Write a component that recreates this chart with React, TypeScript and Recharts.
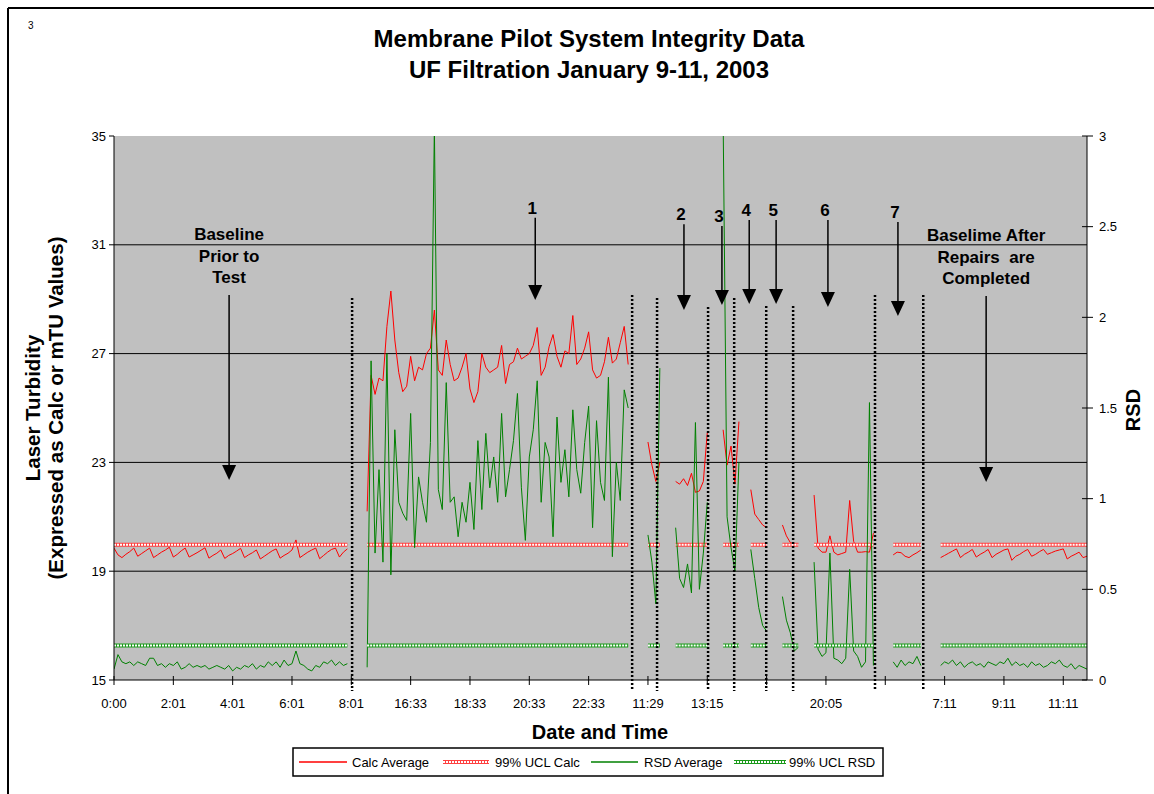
import React from 'react';
import { ComposedChart, Line, XAxis, YAxis, CartesianGrid, ReferenceLine } from 'recharts';

const FONT = "'Liberation Sans', Arial, Helvetica, sans-serif";
const RED = '#FF0000';
const GREEN = '#008000';
const UCL_RED = '#FF4040';
const UCL_GREEN = '#1A9A1A';

// ---- x axis (category index) ----
const pointCount = 247;
const xTickLabels = ['0:00', '2:01', '4:01', '6:01', '8:01', '16:33', '18:33', '20:33', '22:33', '11:29', '13:15', '', '20:05', '', '7:11', '9:11', '11:11'];
const xTickValues = xTickLabels.map((_, k) => k * 15);
const leftTicks = [15, 19, 23, 27, 31, 35];
const rightTicks = [0, 0.5, 1, 1.5, 2, 2.5, 3];
const gridValues = [19, 23, 27, 31];

// ---- UCL levels ----
const uclCalcLevel = 19.97;
const uclRsdLevel = 0.19;

// ---- segment start indices ----
const segmentStart = [0, 64, 135, 142, 154, 161, 169, 177, 197, 209];

// ---- Calc Average (left axis) ----
const calcBaselineBefore = [19.85, 19.6, 19.5, 19.62, 19.72, 19.85, 19.55, 19.65, 19.75, 19.85, 19.5, 19.6, 19.7, 19.78, 19.88, 19.52, 19.62, 19.75, 19.85, 19.52, 19.6, 19.68, 19.77, 19.86, 19.48, 19.58, 19.66, 19.78, 19.47, 19.58, 19.65, 19.74, 19.84, 19.5, 19.6, 19.68, 19.78, 19.45, 19.55, 19.65, 19.75, 19.82, 19.48, 19.58, 19.66, 19.78, 20.15, 19.5, 19.6, 19.7, 19.78, 19.85, 19.46, 19.58, 19.7, 19.8, 19.85, 19.52, 19.7, 19.82];
const calcTest1 = [21.2, 26.2, 25.5, 26.1, 26.0, 28.0, 29.3, 27.5, 26.3, 25.6, 25.8, 26.9, 26.0, 26.5, 26.4, 27.0, 27.2, 28.6, 26.4, 26.2, 27.5, 26.6, 26.0, 26.1, 26.5, 27.0, 25.7, 25.2, 25.6, 27.0, 26.5, 26.3, 26.4, 26.5, 27.3, 25.9, 26.6, 26.7, 27.2, 26.8, 26.9, 27.0, 27.3, 27.96, 26.2, 26.5, 27.25, 27.7, 26.9, 26.5, 27.1, 27.0, 28.4, 26.6, 26.8, 27.2, 27.8, 26.4, 26.1, 26.2, 26.7, 27.6, 26.65, 26.8, 27.4, 28.0, 26.6];
const calcTest1b = [23.75, 22.9, 22.3, 23.0];
const calcTest2 = [22.3, 22.2, 22.4, 22.15, 22.6, 21.9, 21.95, 22.3, 24.1];
const calcTest3 = [24.2, 22.9, 23.6, 22.2, 24.5];
const calcTest4 = [22.0, 21.1, 20.9, 20.7, 20.6];
const calcTest5 = [20.7, 20.3, 20.05, 20.0, 20.02];
const calcTest6 = [21.8, 19.85, 19.7, 19.7, 20.3, 19.7, 19.6, 19.65, 19.7, 21.6, 20.1, 19.7, 19.7, 19.72, 19.7, 20.4];
const calcTest7 = [19.6, 19.7, 19.68, 19.55, 19.5, 19.6, 19.68, 19.78];
const calcBaselineAfter = [19.5, 19.58, 19.66, 19.74, 19.82, 19.5, 19.62, 19.7, 19.8, 19.52, 19.62, 19.7, 19.8, 19.5, 19.62, 19.7, 19.78, 19.82, 19.4, 19.55, 19.62, 19.72, 19.8, 19.55, 19.62, 19.72, 19.8, 19.62, 19.68, 19.74, 19.78, 19.82, 19.45, 19.55, 19.62, 19.7, 19.5, 19.55];

// ---- RSD Average (right axis) ----
const rsdBaselineBefore = [0.06, 0.14, 0.1, 0.09, 0.1, 0.08, 0.1, 0.09, 0.08, 0.12, 0.12, 0.08, 0.09, 0.07, 0.09, 0.08, 0.1, 0.06, 0.07, 0.09, 0.07, 0.08, 0.07, 0.08, 0.06, 0.07, 0.08, 0.07, 0.06, 0.08, 0.05, 0.07, 0.06, 0.08, 0.07, 0.09, 0.06, 0.08, 0.07, 0.1, 0.08, 0.1, 0.07, 0.11, 0.08, 0.09, 0.16, 0.09, 0.08, 0.06, 0.05, 0.08, 0.07, 0.1, 0.09, 0.11, 0.08, 0.1, 0.08, 0.09];
const rsdTest1 = [0.07, 1.76, 0.70, 1.16, 0.65, 1.80, 0.58, 1.38, 0.98, 0.92, 0.88, 1.47, 0.73, 1.12, 0.98, 0.87, 1.31, 3.05, 1.05, 0.94, 1.64, 0.98, 1.01, 0.79, 0.98, 0.87, 1.09, 0.83, 1.32, 0.94, 1.36, 1.06, 1.23, 0.98, 1.47, 1.01, 1.16, 1.32, 1.58, 1.06, 0.77, 1.23, 1.38, 1.65, 0.98, 1.31, 1.23, 0.79, 1.45, 1.09, 1.27, 1.01, 1.49, 1.16, 1.03, 1.31, 1.51, 0.84, 1.43, 1.09, 0.99, 1.67, 0.68, 1.20, 0.99, 1.60, 1.50];
const rsdTest1b = [0.80, 0.65, 0.42, 1.72];
const rsdTest2 = [0.84, 0.56, 0.51, 0.64, 0.48, 1.42, 0.50, 0.70, 0.98];
const rsdTest3 = [3.1, 0.9, 0.73, 0.6, 1.2];
const rsdTest4 = [0.72, 0.56, 0.40, 0.30, 0.27];
const rsdTest5 = [0.46, 0.33, 0.26, 0.16, 0.18];
const rsdTest6 = [0.65, 0.17, 0.13, 0.15, 0.70, 0.12, 0.11, 0.09, 0.12, 0.61, 0.16, 0.13, 0.07, 0.10, 1.53, 0.08];
const rsdTest7 = [0.1, 0.07, 0.11, 0.08, 0.1, 0.09, 0.13, 0.08];
const rsdBaselineAfter = [0.08, 0.1, 0.09, 0.11, 0.08, 0.1, 0.07, 0.09, 0.1, 0.08, 0.09, 0.07, 0.1, 0.09, 0.08, 0.1, 0.09, 0.12, 0.08, 0.1, 0.08, 0.09, 0.07, 0.1, 0.08, 0.09, 0.07, 0.08, 0.1, 0.09, 0.11, 0.08, 0.07, 0.09, 0.06, 0.08, 0.07, 0.06];

const calcSegments = [calcBaselineBefore, calcTest1, calcTest1b, calcTest2, calcTest3, calcTest4, calcTest5, calcTest6, calcTest7, calcBaselineAfter];
const rsdSegments = [rsdBaselineBefore, rsdTest1, rsdTest1b, rsdTest2, rsdTest3, rsdTest4, rsdTest5, rsdTest6, rsdTest7, rsdBaselineAfter];

// ---- annotations (x = category index, y = left-axis value) ----
const separatorX = [60.2, 131.0, 137.3, 150.2, 156.8, 164.9, 171.7, 192.4, 204.6];
const separatorTop = [29.04, 29.15, 29.04, 28.71, 29.04, 28.75, 28.75, 29.15, 29.15];
const separatorBottom = 14.6;

const arrowX = [29.1, 106.5, 144.1, 153.7, 160.6, 167.4, 180.5, 198.2, 220.5];
const arrowTop = [29.15, 31.99, 31.76, 31.69, 31.91, 31.91, 31.91, 31.84, 29.12];
const arrowTip = [22.35, 28.97, 28.6, 28.79, 28.82, 28.82, 28.71, 28.38, 22.28];
const arrowText = [
  ['Baseline', 'Prior to', 'Test'],
  ['1'], ['2'], ['3'], ['4'], ['5'], ['6'], ['7'],
  ['Baselime After', 'Repairs  are', 'Completed'],
];

type Row = { idx: number; calc: number | null; rsd: number | null; uclCalc: number | null; uclRsd: number | null };
const data: Row[] = Array.from({ length: pointCount }, (_, i) => ({ idx: i, calc: null, rsd: null, uclCalc: null, uclRsd: null }));
segmentStart.forEach((s, k) => {
  calcSegments[k].forEach((v, j) => {
    data[s + j].calc = v;
    data[s + j].uclCalc = uclCalcLevel;
  });
  rsdSegments[k].forEach((v, j) => {
    data[s + j].rsd = v;
    data[s + j].uclRsd = uclRsdLevel;
  });
});

function XTick(props: any) {
  const { x, y, payload } = props;
  const k = xTickValues.indexOf(payload.value);
  const label = k >= 0 ? xTickLabels[k] : '';
  const axisY = y - 10;
  return (
    <g>
      <line x1={x} x2={x} y1={axisY - 4} y2={axisY} stroke="#000" strokeWidth={1} />
      <text x={x} y={axisY + 28} textAnchor="middle" fontSize={13} fontFamily={FONT} fill="#000">{label}</text>
    </g>
  );
}

function LeftTick(props: any) {
  const { x, y, payload } = props;
  return (
    <text x={x} y={y + 4.5} textAnchor="end" fontSize={13} fontFamily={FONT} fill="#000">{payload.value}</text>
  );
}

function RightTick(props: any) {
  const { x, y, payload } = props;
  const axisX = x - 12;
  return (
    <g>
      <line x1={axisX - 5} x2={axisX} y1={y} y2={y} stroke="#000" strokeWidth={1} />
      <text x={x} y={y + 4.5} textAnchor="start" fontSize={13} fontFamily={FONT} fill="#000">{payload.value}</text>
    </g>
  );
}

function arrowShape(lines: string[]) {
  return (p: any) => {
    const x = p.x1;
    const top = Math.min(p.y1, p.y2);
    const tip = Math.max(p.y1, p.y2);
    const big = lines.length > 1;
    const offsets = big ? [-55, -33, -12] : [-4];
    return (
      <g>
        <line x1={x} x2={x} y1={top} y2={tip - 12} stroke="#000" strokeWidth={1.5} />
        <polygon points={`${x - 7},${tip - 15} ${x + 7},${tip - 15} ${x},${tip}`} fill="#000" />
        {lines.map((t, k) => (
          <text
            key={k}
            x={big ? x : x - 3}
            y={top + offsets[k]}
            textAnchor="middle"
            fontFamily={FONT}
            fontWeight="bold"
            fontSize={17}
            fill="#000"
            style={{ whiteSpace: 'pre' }}
          >
            {t}
          </text>
        ))}
      </g>
    );
  };
}

function UclSample({ x1, x2, y, color }: { x1: number; x2: number; y: number; color: string }) {
  return (
    <g>
      <line x1={x1} x2={x2} y1={y} y2={y} stroke={color} strokeWidth={4} />
      <line x1={x1} x2={x2} y1={y} y2={y} stroke="#fff" strokeWidth={2} strokeDasharray="2 1" />
    </g>
  );
}

export default function App() {
  return (
    <div style={{ position: 'absolute', left: 0, top: 0, width: 1154, height: 794, background: '#fff', overflow: 'hidden' }}>
      <div style={{ position: 'absolute', left: 0, top: 0 }}>
        <ComposedChart width={1154} height={794} data={data} margin={{ top: 136, right: 7, bottom: 84, left: 54 }}>
          <CartesianGrid
            yAxisId="left"
            vertical={false}
            horizontalValues={gridValues}
            stroke="#000"
            strokeWidth={1}
            fill="#C0C0C0"
            fillOpacity={1}
          />
          <XAxis
            dataKey="idx"
            type="number"
            domain={[0, pointCount - 1]}
            ticks={xTickValues}
            interval={0}
            allowDataOverflow
            height={30}
            tickSize={5}
            tickMargin={5}
            tick={<XTick />}
            axisLine={{ stroke: '#000' }}
            tickLine={{ stroke: '#000' }}
          />
          <YAxis
            yAxisId="left"
            orientation="left"
            width={60}
            domain={[15, 35]}
            ticks={leftTicks}
            interval={0}
            allowDataOverflow
            tickSize={5}
            tickMargin={3}
            tick={<LeftTick />}
            axisLine={{ stroke: '#000' }}
            tickLine={{ stroke: '#000' }}
          />
          <YAxis
            yAxisId="right"
            orientation="right"
            width={60}
            domain={[0, 3]}
            ticks={rightTicks}
            interval={0}
            allowDataOverflow
            tickSize={6}
            tickMargin={6}
            tick={<RightTick />}
            axisLine={{ stroke: '#000' }}
            tickLine={{ stroke: '#000' }}
          />
          <Line yAxisId="left" dataKey="calc" stroke={RED} strokeWidth={1} dot={false} activeDot={false} isAnimationActive={false} />
          <Line yAxisId="left" dataKey="uclCalc" stroke={UCL_RED} strokeWidth={4} dot={false} activeDot={false} isAnimationActive={false} />
          <Line yAxisId="left" dataKey="uclCalc" stroke="#FFFFFF" strokeWidth={2} strokeDasharray="2 1" dot={false} activeDot={false} isAnimationActive={false} />
          <Line yAxisId="right" dataKey="rsd" stroke={GREEN} strokeWidth={1} dot={false} activeDot={false} isAnimationActive={false} />
          <Line yAxisId="right" dataKey="uclRsd" stroke={UCL_GREEN} strokeWidth={4} dot={false} activeDot={false} isAnimationActive={false} />
          <Line yAxisId="right" dataKey="uclRsd" stroke="#FFFFFF" strokeWidth={2} strokeDasharray="2 1" dot={false} activeDot={false} isAnimationActive={false} />
          {separatorX.map((x, k) => (
            <ReferenceLine
              key={`sep${k}`}
              yAxisId="left"
              ifOverflow="visible"
              segment={[{ x, y: separatorTop[k] }, { x, y: separatorBottom }]}
              stroke="#000"
              strokeWidth={2.5}
              strokeDasharray="2 2"
            />
          ))}
          {arrowX.map((x, k) => (
            <ReferenceLine
              key={`arr${k}`}
              yAxisId="left"
              ifOverflow="visible"
              segment={[{ x, y: arrowTop[k] }, { x, y: arrowTip[k] }]}
              stroke="#000"
              shape={arrowShape(arrowText[k])}
            />
          ))}
        </ComposedChart>
      </div>
      <svg width={1154} height={794} style={{ position: 'absolute', left: 0, top: 0, pointerEvents: 'none' }} fontFamily={FONT}>
        <line x1={8} y1={8} x2={1154} y2={8} stroke="#000" strokeWidth={2} />
        <line x1={8} y1={8} x2={8} y2={794} stroke="#000" strokeWidth={2} />
        <text x={28} y={29} fontSize={10} fill="#000">3</text>
        <text x={589} y={47} textAnchor="middle" fontSize={24} fontWeight="bold" fill="#000">Membrane Pilot System Integrity Data</text>
        <text x={589} y={78} textAnchor="middle" fontSize={24} fontWeight="bold" fill="#000">UF Filtration January 9-11, 2003</text>
        <text x={40} y={408} transform="rotate(-90 40 408)" textAnchor="middle" fontSize={20.5} fontWeight="bold" fill="#000">Laser Turbidity</text>
        <text x={63} y={408} transform="rotate(-90 63 408)" textAnchor="middle" fontSize={20.5} fontWeight="bold" fill="#000">(Expressed as Calc or mTU Values)</text>
        <text x={1140} y={410} transform="rotate(-90 1140 410)" textAnchor="middle" fontSize={20} fontWeight="bold" fill="#000">RSD</text>
        <text x={600} y={739} textAnchor="middle" fontSize={20} fontWeight="bold" fill="#000">Date and Time</text>
        <rect x={293} y={748} width={590} height={28} fill="#fff" stroke="#000" strokeWidth={1.5} />
        <line x1={299} x2={347} y1={762} y2={762} stroke={RED} strokeWidth={1.5} />
        <text x={352} y={767} fontSize={13} fill="#000">Calc Average</text>
        <UclSample x1={443} x2={489} y={762} color={UCL_RED} />
        <text x={495} y={767} fontSize={13} fill="#000">99% UCL Calc</text>
        <line x1={591} x2={638} y1={762} y2={762} stroke={GREEN} strokeWidth={1.5} />
        <text x={644} y={767} fontSize={13} fill="#000">RSD Average</text>
        <UclSample x1={734} x2={786} y={762} color={UCL_GREEN} />
        <text x={789} y={767} fontSize={13} fill="#000">99% UCL RSD</text>
      </svg>
    </div>
  );
}
